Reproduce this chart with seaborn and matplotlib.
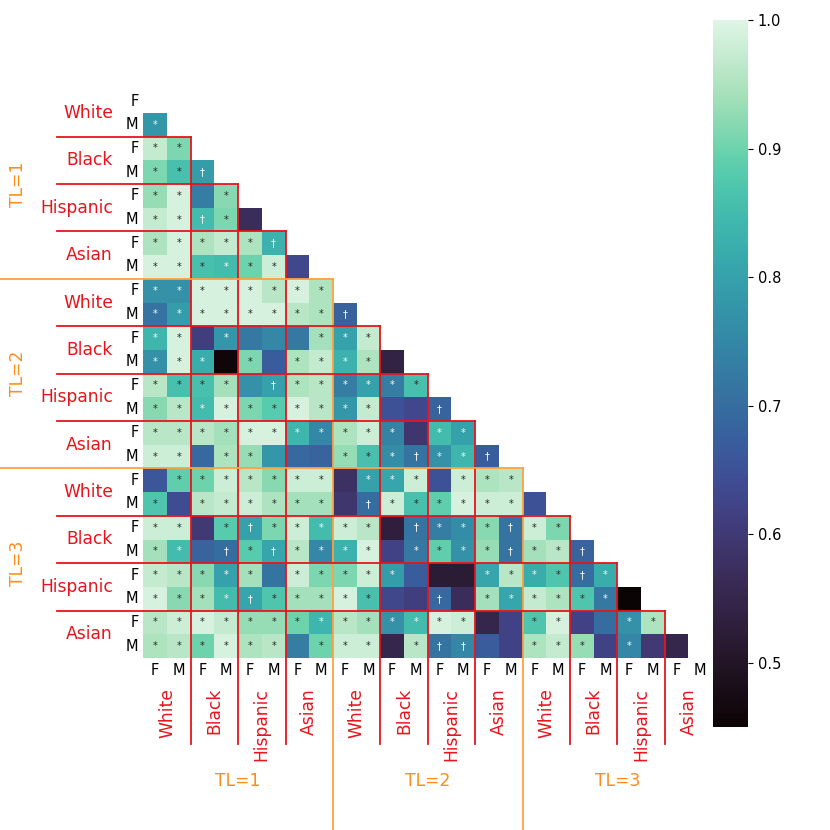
import numpy as np
import pandas as pd
import matplotlib
matplotlib.use("Agg")
import matplotlib.pyplot as plt
import seaborn as sns

tl_levels = ["TL=1", "TL=2", "TL=3"]
races = ["White", "Black", "Hispanic", "Asian"]
sexes = ["F", "M"]

# lower-triangle values, rows 1..23 (row 0 has no cells)
row_values = [
    [0.78],
    [0.97, 0.91],
    [0.91, 0.86, 0.79],
    [0.93, 0.99, 0.73, 0.92],
    [0.97, 0.99, 0.85, 0.91, 0.57],
    [0.95, 0.99, 0.95, 0.97, 0.95, 0.83],
    [0.99, 0.99, 0.86, 0.85, 0.90, 0.98, 0.63],
    [0.77, 0.77, 0.99, 0.99, 0.99, 0.96, 0.99, 0.95],
    [0.71, 0.79, 0.99, 0.99, 0.99, 0.99, 0.96, 0.95, 0.68],
    [0.84, 0.99, 0.61, 0.78, 0.72, 0.75, 0.72, 0.94, 0.80, 0.97],
    [0.77, 0.99, 0.82, 0.46, 0.91, 0.67, 0.95, 0.97, 0.83, 0.95, 0.54],
    [0.96, 0.86, 0.86, 0.94, 0.77, 0.80, 0.95, 0.96, 0.73, 0.80, 0.73, 0.86],
    [0.92, 0.96, 0.85, 0.99, 0.91, 0.88, 0.99, 0.96, 0.78, 0.97, 0.65, 0.63, 0.68],
    [0.96, 0.96, 0.96, 0.94, 0.99, 0.99, 0.84, 0.75, 0.95, 0.98, 0.74, 0.59, 0.85, 0.80],
    [0.98, 0.98, 0.69, 0.95, 0.93, 0.78, 0.69, 0.68, 0.93, 0.86, 0.76, 0.71, 0.77, 0.84, 0.67],
    [0.66, 0.89, 0.90, 0.98, 0.96, 0.92, 0.98, 0.98, 0.58, 0.80, 0.81, 0.98, 0.65, 0.98, 0.95, 0.96],
    [0.87, 0.64, 0.96, 0.97, 0.98, 0.95, 0.94, 0.94, 0.59, 0.70, 0.98, 0.86, 0.89, 0.99, 0.98, 0.98, 0.65],
    [0.98, 0.98, 0.60, 0.88, 0.80, 0.91, 0.98, 0.85, 0.98, 0.96, 0.53, 0.71, 0.73, 0.76, 0.92, 0.71, 0.98, 0.91],
    [0.94, 0.85, 0.68, 0.70, 0.88, 0.81, 0.96, 0.75, 0.83, 0.99, 0.62, 0.72, 0.89, 0.77, 0.93, 0.71, 0.94, 0.96, 0.68],
    [0.97, 0.96, 0.92, 0.80, 0.94, 0.71, 0.98, 0.91, 0.91, 0.98, 0.79, 0.67, 0.52, 0.52, 0.81, 0.96, 0.82, 0.87, 0.70, 0.82],
    [0.99, 0.92, 0.94, 0.85, 0.81, 0.87, 0.94, 0.94, 0.99, 0.86, 0.63, 0.61, 0.69, 0.57, 0.94, 0.81, 0.97, 0.95, 0.87, 0.72, 0.45],
    [0.96, 0.98, 0.99, 0.97, 0.93, 0.93, 0.90, 0.84, 0.96, 0.94, 0.77, 0.85, 0.99, 0.98, 0.55, 0.62, 0.87, 0.99, 0.62, 0.70, 0.77, 0.95],
    [0.95, 0.96, 0.90, 0.99, 0.95, 0.96, 0.73, 0.90, 0.98, 0.98, 0.55, 0.96, 0.71, 0.75, 0.67, 0.62, 0.95, 0.97, 0.93, 0.62, 0.75, 0.60, 0.55],
]

# significance marks per row ('*', '†' or blank)
row_marks = [
    "*",
    "**",
    "**†",
    "** *",
    "**†* ",
    "*****†",
    "****** ",
    "********",
    "********†",
    "** *   ***",
    "*** * **** ",
    "**** †******",
    "**********  †",
    "*********** **",
    "** **   ***†**†",
    " ******* *** ***",
    "* ****** †****** ",
    "** *†***** †***†**",
    "** †*†**** ****†**†",
    "***** *****   ****†*",
    "****†*****  † ****** ",
    "**************  **  **",
    "****** *** *††  *** *  ",
]

cbar_ticks = [0.5, 0.6, 0.7, 0.8, 0.9, 1.0]

n = len(tl_levels) * len(races) * len(sexes)
vals = np.full((n, n), np.nan)
ann = np.full((n, n), "", dtype=object)
for i, (v, m) in enumerate(zip(row_values, row_marks), start=1):
    vals[i, :len(v)] = v
    for j, ch in enumerate(m):
        ann[i, j] = ch.strip()

idx = [f"{t}|{r}|{s}" for t in tl_levels for r in races for s in sexes]
df = pd.DataFrame(vals, index=idx, columns=idx)
labels = [s for t in tl_levels for r in races for s in sexes]
mask = np.triu(np.ones((n, n), dtype=bool))

W = 830.0
fig = plt.figure(figsize=(8.3, 8.3), dpi=100)
ax = fig.add_axes([143.3 / W, 1 - 658 / W, 568.8 / W, 568.8 / W])
cax = fig.add_axes([713 / W, 1 - 727 / W, 35 / W, 707 / W])

sns.heatmap(df, mask=mask, cmap="mako", vmin=0.45, vmax=1.0,
            annot=ann, fmt="", annot_kws={"fontsize": 7},
            ax=ax, cbar_ax=cax, cbar_kws={"ticks": cbar_ticks},
            xticklabels=labels, yticklabels=labels, linewidths=0)

ax.tick_params(length=0, labelsize=10.5)
ax.set_xticklabels(labels, rotation=0)
ax.set_yticklabels(labels, rotation=0)
ax.set_xlabel("")
ax.set_ylabel("")
cax.tick_params(labelsize=10.5)

red = "#e8141c"
orange_line = "#ffa040"
orange_text = "#ff8c1a"

for k in range(1, len(tl_levels) * len(races)):
    b = 2 * k
    is_tl = (k % len(races) == 0)
    col = orange_line if is_tl else red
    xs = -6.1 if is_tl else -3.64
    ye = 31.3 if is_tl else 27.64
    ax.plot([xs, b], [b, b], color=col, lw=1.3, clip_on=False, zorder=5)
    ax.plot([b, b], [b, ye], color=col, lw=1.3, clip_on=False, zorder=5)

for t, tl in enumerate(tl_levels):
    for r, race in enumerate(races):
        c = 8 * t + 2 * r + 1
        ax.text(-1.28, c, race, color=red, fontsize=12.3, ha="right", va="center")
        ax.text(c, 25.27, race, color=red, fontsize=12.3, ha="center", va="top",
                rotation=90)
    ax.text(-5.29, 8 * t + 4, tl, color=orange_text, fontsize=12.3, ha="center",
            va="center", rotation=90)
    ax.text(8 * t + 4, 29.2, tl, color=orange_text, fontsize=12.3, ha="center",
            va="center")

fig.savefig("out.png", dpi=100, facecolor="white")
